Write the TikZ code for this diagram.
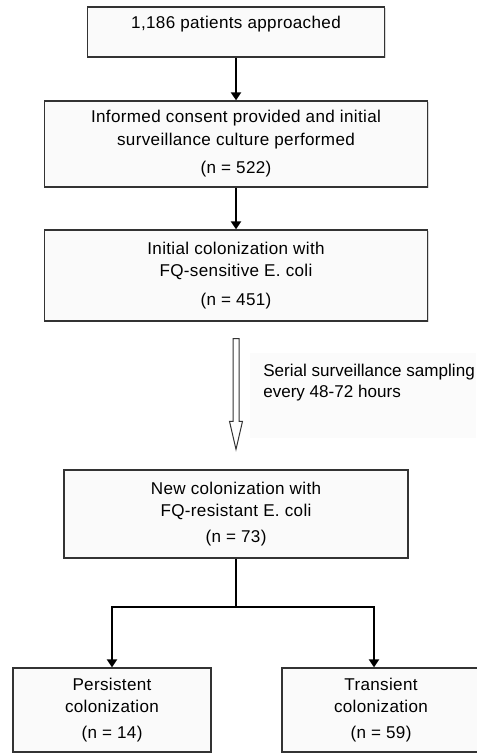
\documentclass[tikz,border=0pt]{standalone}
\usepackage{fontspec}
\setmainfont[LetterSpace=2]{Liberation Sans}
\usetikzlibrary{arrows.meta,calc,shadows}

\begin{document}
\begin{tikzpicture}[x=0.75pt,y=-0.75pt,
  box/.style={draw=black!80, line width=1pt, fill=black!2, align=center,
    font=\fontsize{12.8}{16.9}\selectfont,
    drop shadow={shadow xshift=1pt, shadow yshift=-1pt, opacity=0.3}},
  flow/.style={line width=1.5pt, -{Triangle[width=7.5pt,length=6pt]}}]
  \useasboundingbox (0,0) rectangle (476,753);
  % Boxes
  \node[box, minimum width=222.75pt, minimum height=37.5pt, inner ysep=0pt,
    text height=16.4pt, text depth=21.1pt] (approach) at (236,32) {1,186 patients approached};
  \node[box, minimum width=287.25pt, minimum height=64.5pt] (consent) at (236,144)
    {Informed consent provided and initial\\surveillance culture performed\\[4.5pt](n = 522)};
  \node[box, minimum width=287.25pt, minimum height=68.25pt] (initial) at (236,275.5)
    {Initial colonization with\\FQ-sensitive E. coli\\[4.5pt](n = 451)};
  \node[box, minimum width=258pt, minimum height=66pt] (newcol) at (236,514)
    {New colonization with\\FQ-resistant E. coli\\[2.5pt](n = 73)};
  \node[box, minimum width=148.5pt, minimum height=63pt] (persist) at (112,710)
    {Persistent\\colonization\\[2.5pt](n = 14)};
  \node[box, minimum width=148.5pt, minimum height=63pt] (transient) at (381,710)
    {Transient\\colonization\\[2.5pt](n = 59)};
  % Sampling note
  \fill[black!1.5] (250,353) rectangle (476,438);
  \node[anchor=west, align=left, inner sep=0pt,
    font=\fontsize{12.8}{15.75}\selectfont\addfontfeature{LetterSpace=0}] (sampling) at (263,382.5)
    {Serial surveillance sampling\\every 48-72 hours};
  % Arrows
  \draw[flow] (approach.south) -- (consent.north);
  \draw[flow] (consent.south) -- (initial.north);
  \draw[draw=black!80, line width=0.75pt, fill=white]
    ($(initial.south)+(-3,17)$) -- ($(initial.south)+(3,17)$)
    -- ($(newcol.north)+(3,-48)$) -- ($(newcol.north)+(6.5,-48)$)
    -- ($(newcol.north)+(0,-20)$) -- ($(newcol.north)+(-6.5,-48)$)
    -- ($(newcol.north)+(-3,-48)$) -- cycle;
  \coordinate (split) at ($(newcol.south)+(0,48)$);
  \draw[line width=1pt] (newcol.south) -- (split);
  \draw[flow] (split) -| (persist.north);
  \draw[flow] (split) -| ($(transient.north)+(-7,0)$);
\end{tikzpicture}
\end{document}
